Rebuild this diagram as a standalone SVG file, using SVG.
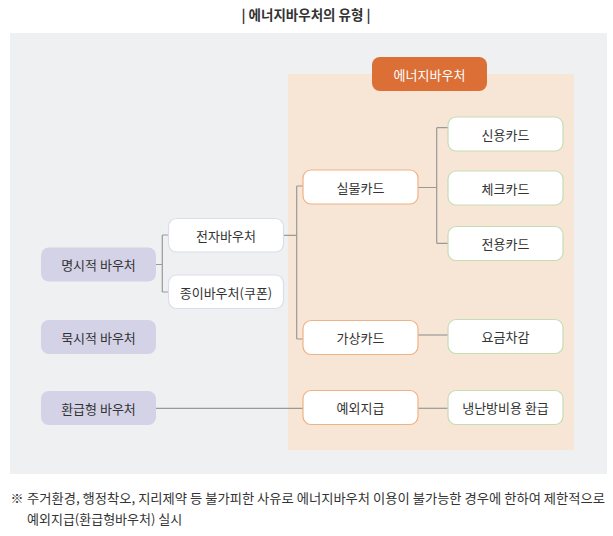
<svg xmlns="http://www.w3.org/2000/svg" width="613" height="536" viewBox="0 0 613 536">
<style>
text{font-family:"Noto Sans CJK KR","Noto Sans",sans-serif;fill:#333;font-size:13px;text-anchor:middle;dominant-baseline:central}
.l rect{fill:#d3d2e7;stroke:none}
.m rect{fill:#fff;stroke:#dcdcef;stroke-width:1.2}
.o rect{fill:#fff;stroke:#eeb285;stroke-width:1.2}
.g rect{fill:#fff;stroke:#c5ddb3;stroke-width:1.2}
#conn path{fill:none;stroke:#999;stroke-width:1.2}
</style>
<rect width="613" height="536" fill="#fff"/>
<text x="306" y="14" style="font-weight:bold;font-size:13.5px;fill:#333">|  에너지바우처의 유형  |</text>
<rect x="10" y="33" width="597" height="441" fill="#eff0f2"/>
<rect x="288" y="74" width="286" height="376" fill="#f7e6d6"/>
<g id="header"><rect x="372" y="57" width="115" height="34" rx="8" fill="#db6f36"/><text x="429.5" y="74" style="fill:#fff">에너지바우처</text></g>
<g id="conn">
<path d="M156 264.5H162.3M162.3 235V292M162.3 235H168M162.3 292H168"/>
<path d="M283 235.3H296.7M296.7 186V339M296.7 186H303M296.7 339H303"/>
<path d="M418 187.5H436.7M436.7 127.7V243.3M436.7 127.7H448M436.7 243.3H448"/>
<path d="M418 335H448"/>
<path d="M156 408.3H303"/>
<path d="M418 408.3H448"/>
</g>
<g id="n-myeongsi" class="l"><rect x="41" y="247.5" width="115" height="34" rx="8"/><text x="98.5" y="264.5">명시적 바우처</text></g>
<g id="n-muksi" class="l"><rect x="41" y="320" width="115" height="34" rx="8"/><text x="98.5" y="337">묵시적 바우처</text></g>
<g id="n-hwangeup" class="l"><rect x="41" y="391" width="115" height="34" rx="8"/><text x="98.5" y="408">환급형 바우처</text></g>
<g id="n-jeonja" class="m"><rect x="168.5" y="218.5" width="115" height="33.5" rx="8"/><text x="226" y="235.3">전자바우처</text></g>
<g id="n-jongi" class="m"><rect x="168.5" y="275" width="115" height="33.5" rx="8"/><text x="226" y="292">종이바우처(쿠폰)</text></g>
<g id="n-silmul" class="o"><rect x="303" y="170" width="115" height="34" rx="8"/><text x="360.5" y="187">실물카드</text></g>
<g id="n-gasang" class="o"><rect x="303" y="320.5" width="115" height="34" rx="8"/><text x="360.5" y="337.5">가상카드</text></g>
<g id="n-yeoe" class="o"><rect x="303" y="390.5" width="115" height="34" rx="8"/><text x="360.5" y="407.5">예외지급</text></g>
<g id="n-sinyong" class="g"><rect x="448" y="117" width="115" height="34" rx="8"/><text x="505.5" y="134">신용카드</text></g>
<g id="n-check" class="g"><rect x="448" y="171" width="115" height="34" rx="8"/><text x="505.5" y="188">체크카드</text></g>
<g id="n-jeonyong" class="g"><rect x="448" y="226.5" width="115" height="34" rx="8"/><text x="505.5" y="243.5">전용카드</text></g>
<g id="n-yogeum" class="g"><rect x="448" y="319.5" width="115" height="34" rx="8"/><text x="505.5" y="336.5">요금차감</text></g>
<g id="n-naengnan" class="g"><rect x="448" y="390.5" width="115" height="34" rx="8"/><text x="505.5" y="407.5">냉난방비용 환급</text></g>
<text x="17" y="497" style="font-size:13px">※</text>
<text x="27" y="497" textLength="578" lengthAdjust="spacingAndGlyphs" style="text-anchor:start;font-size:13px">주거환경, 행정착오, 지리제약 등 불가피한 사유로 에너지바우처 이용이 불가능한 경우에 한하여 제한적으로</text>
<text x="27" y="518" style="text-anchor:start;font-size:13px">예외지급(환급형바우처) 실시</text>
</svg>
